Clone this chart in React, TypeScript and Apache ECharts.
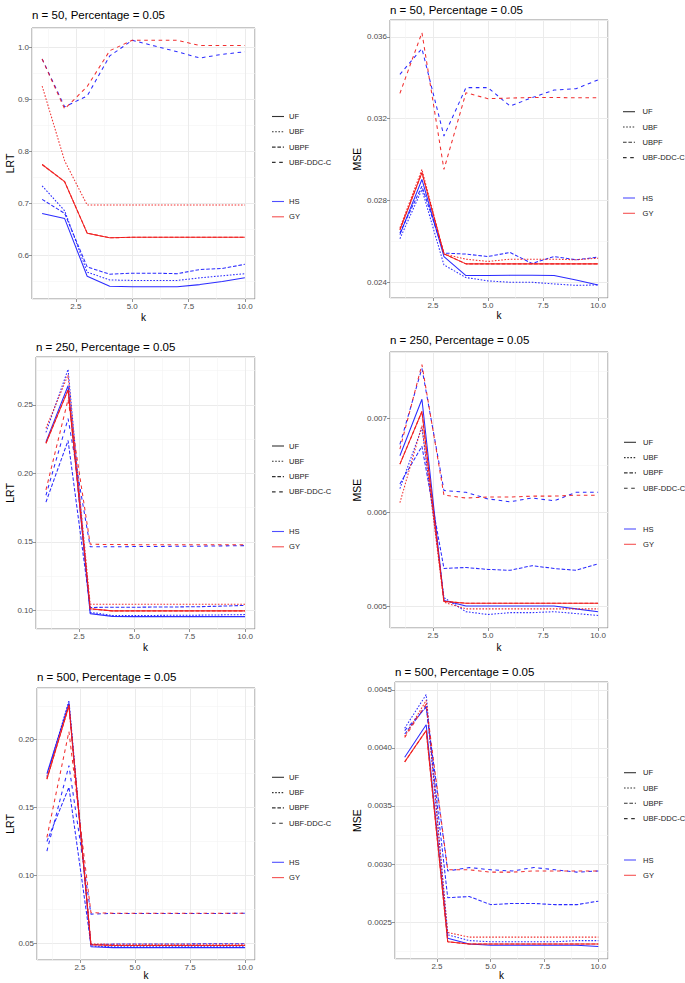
import React, { useEffect, useRef } from "react";
import * as echarts from "echarts";

// ---------- data ----------
const K = [1, 2, 3, 4, 5, 6, 7, 8, 9, 10];
const METHODS = ["UF", "UBF", "UBPF", "UBF-DDC-C"];
const GROUPS = ["HS", "GY"];
const TITLES = [
  "n = 50, Percentage = 0.05",
  "n = 50, Percentage = 0.05",
  "n = 250, Percentage = 0.05",
  "n = 250, Percentage = 0.05",
  "n = 500, Percentage = 0.05",
  "n = 500, Percentage = 0.05",
];
const Y_NAMES = ["LRT", "MSE", "LRT", "MSE", "LRT", "MSE"];
const Y_STEPS = [0.1, 0.004, 0.05, 0.001, 0.05, 0.0005];
const Y_DECIMALS = [1, 3, 2, 3, 2, 4];
const X_STEP = 2.5;

// n = 50, LRT
const LRT50_HS_UF = [0.681, 0.671, 0.56, 0.541, 0.54, 0.54, 0.54, 0.544, 0.55, 0.557];
const LRT50_HS_UBF = [0.734, 0.686, 0.568, 0.553, 0.552, 0.552, 0.552, 0.557, 0.561, 0.565];
const LRT50_HS_UBPF = [0.708, 0.681, 0.578, 0.564, 0.566, 0.566, 0.565, 0.573, 0.575, 0.583];
const LRT50_HS_DDC = [0.978, 0.886, 0.907, 0.984, 1.014, 1.003, 0.992, 0.98, 0.987, 0.992];
const LRT50_GY_UF = [0.775, 0.742, 0.643, 0.634, 0.635, 0.635, 0.635, 0.635, 0.635, 0.635];
const LRT50_GY_UBF = [0.926, 0.782, 0.697, 0.697, 0.697, 0.697, 0.697, 0.697, 0.697, 0.697];
const LRT50_GY_UBPF = [0.775, 0.742, 0.643, 0.634, 0.635, 0.635, 0.635, 0.635, 0.635, 0.635];
const LRT50_GY_DDC = [0.978, 0.882, 0.925, 0.994, 1.014, 1.014, 1.014, 1.004, 1.004, 1.004];

// n = 50, MSE
const MSE50_HS_UF = [0.02633, 0.02903, 0.02526, 0.02433, 0.02433, 0.02434, 0.02434, 0.02433, 0.02411, 0.02387];
const MSE50_HS_UBF = [0.02613, 0.02854, 0.02485, 0.02423, 0.02407, 0.024, 0.024, 0.02392, 0.02385, 0.02387];
const MSE50_HS_UBPF = [0.02641, 0.0287, 0.02543, 0.02538, 0.02526, 0.02546, 0.02492, 0.02526, 0.0251, 0.02523];
const MSE50_HS_DDC = [0.03417, 0.03543, 0.03115, 0.03352, 0.03352, 0.03262, 0.03303, 0.0334, 0.03347, 0.0339];
const MSE50_GY_UF = [0.02657, 0.02936, 0.02539, 0.0249, 0.0249, 0.0249, 0.0249, 0.0249, 0.0249, 0.0249];
const MSE50_GY_UBF = [0.02666, 0.02952, 0.02538, 0.02513, 0.02502, 0.02513, 0.02513, 0.02513, 0.0251, 0.02518];
const MSE50_GY_UBPF = [0.02657, 0.02936, 0.02539, 0.0249, 0.0249, 0.0249, 0.0249, 0.0249, 0.0249, 0.0249];
const MSE50_GY_DDC = [0.03324, 0.03621, 0.02952, 0.03327, 0.03298, 0.03301, 0.03304, 0.03304, 0.03302, 0.03303];

// n = 250, LRT
const LRT250_HS_UF = [0.223, 0.264, 0.0975, 0.0955, 0.0953, 0.0953, 0.0953, 0.0953, 0.0953, 0.0953];
const LRT250_HS_UBF = [0.23, 0.276, 0.0985, 0.0962, 0.0962, 0.0962, 0.0963, 0.0964, 0.0966, 0.0968];
const LRT250_HS_UBPF = [0.179, 0.224, 0.102, 0.1022, 0.1022, 0.1023, 0.1024, 0.1026, 0.103, 0.1035];
const LRT250_HS_DDC = [0.184, 0.24, 0.1463, 0.1463, 0.1465, 0.1466, 0.1467, 0.1468, 0.147, 0.1472];
const LRT250_GY_UF = [0.222, 0.261, 0.101, 0.0995, 0.0995, 0.0995, 0.0995, 0.0995, 0.0995, 0.0995];
const LRT250_GY_UBF = [0.233, 0.272, 0.1043, 0.1043, 0.1043, 0.1043, 0.1043, 0.1043, 0.1043, 0.1043];
const LRT250_GY_UBPF = [0.222, 0.261, 0.101, 0.0995, 0.0995, 0.0995, 0.0995, 0.0995, 0.0995, 0.0995];
const LRT250_GY_DDC = [0.188, 0.254, 0.1482, 0.148, 0.1479, 0.1479, 0.1478, 0.1478, 0.1478, 0.1478];

// n = 250, MSE
const MSE250_HS_UF = [0.0066, 0.0072, 0.00506, 0.005, 0.005, 0.005, 0.005, 0.005, 0.00497, 0.00494];
const MSE250_HS_UBF = [0.00625, 0.0069, 0.00509, 0.00494, 0.00491, 0.00493, 0.00493, 0.00494, 0.00492, 0.0049];
const MSE250_HS_UBPF = [0.0063, 0.0067, 0.0054, 0.00541, 0.00539, 0.00538, 0.00543, 0.0054, 0.00538, 0.00545];
const MSE250_HS_DDC = [0.00672, 0.00753, 0.00623, 0.00621, 0.00614, 0.00611, 0.00615, 0.00612, 0.00621, 0.00621];
const MSE250_GY_UF = [0.00651, 0.00707, 0.00505, 0.00503, 0.00503, 0.00503, 0.00503, 0.00503, 0.00503, 0.00503];
const MSE250_GY_UBF = [0.0061, 0.00692, 0.00504, 0.00497, 0.00497, 0.00497, 0.00497, 0.00497, 0.00497, 0.00497];
const MSE250_GY_UBPF = [0.00651, 0.00707, 0.00505, 0.00503, 0.00503, 0.00503, 0.00503, 0.00503, 0.00503, 0.00503];
const MSE250_GY_DDC = [0.00667, 0.00757, 0.00618, 0.00615, 0.00616, 0.00616, 0.00617, 0.00617, 0.00618, 0.00618];

// n = 500, LRT
const LRT500_HS_UF = [0.175, 0.227, 0.0475, 0.0468, 0.0468, 0.0468, 0.0468, 0.0468, 0.0468, 0.0468];
const LRT500_HS_UBF = [0.173, 0.229, 0.048, 0.0474, 0.0474, 0.0474, 0.0474, 0.0474, 0.0474, 0.0475];
const LRT500_HS_UBPF = [0.125, 0.165, 0.049, 0.0494, 0.0495, 0.0495, 0.0495, 0.0496, 0.0496, 0.0497];
const LRT500_HS_DDC = [0.118, 0.181, 0.0715, 0.072, 0.072, 0.072, 0.072, 0.072, 0.072, 0.0721];
const LRT500_GY_UF = [0.171, 0.225, 0.049, 0.0484, 0.0484, 0.0484, 0.0484, 0.0484, 0.0484, 0.0484];
const LRT500_GY_UBF = [0.172, 0.226, 0.0495, 0.0493, 0.0493, 0.0493, 0.0493, 0.0493, 0.0493, 0.0493];
const LRT500_GY_UBPF = [0.171, 0.225, 0.049, 0.0484, 0.0484, 0.0484, 0.0484, 0.0484, 0.0484, 0.0484];
const LRT500_GY_DDC = [0.128, 0.206, 0.0725, 0.0722, 0.0722, 0.0722, 0.0722, 0.0722, 0.0722, 0.0722];

// n = 500, MSE
const MSE500_HS_UF = [0.00392, 0.0042, 0.00236, 0.00231, 0.0023, 0.0023, 0.0023, 0.0023, 0.0023, 0.00229];
const MSE500_HS_UBF = [0.00417, 0.00446, 0.00239, 0.00234, 0.00233, 0.00233, 0.00233, 0.00233, 0.00234, 0.00234];
const MSE500_HS_UBPF = [0.00412, 0.00436, 0.00271, 0.00272, 0.00265, 0.00266, 0.00266, 0.00265, 0.00265, 0.00268];
const MSE500_HS_DDC = [0.00415, 0.00435, 0.00294, 0.00297, 0.00295, 0.00294, 0.00297, 0.00295, 0.00293, 0.00294];
const MSE500_GY_UF = [0.00388, 0.00415, 0.00233, 0.00231, 0.00231, 0.00231, 0.00231, 0.00231, 0.00231, 0.00231];
const MSE500_GY_UBF = [0.0041, 0.00441, 0.00241, 0.00237, 0.00237, 0.00237, 0.00237, 0.00237, 0.00237, 0.00237];
const MSE500_GY_UBPF = [0.00388, 0.00415, 0.00233, 0.00231, 0.00231, 0.00231, 0.00231, 0.00231, 0.00231, 0.00231];
const MSE500_GY_DDC = [0.00409, 0.00438, 0.00295, 0.00295, 0.00293, 0.00293, 0.00294, 0.00294, 0.00294, 0.00294];

const PANEL_DATA = [
  { HS: [LRT50_HS_UF, LRT50_HS_UBF, LRT50_HS_UBPF, LRT50_HS_DDC], GY: [LRT50_GY_UF, LRT50_GY_UBF, LRT50_GY_UBPF, LRT50_GY_DDC] },
  { HS: [MSE50_HS_UF, MSE50_HS_UBF, MSE50_HS_UBPF, MSE50_HS_DDC], GY: [MSE50_GY_UF, MSE50_GY_UBF, MSE50_GY_UBPF, MSE50_GY_DDC] },
  { HS: [LRT250_HS_UF, LRT250_HS_UBF, LRT250_HS_UBPF, LRT250_HS_DDC], GY: [LRT250_GY_UF, LRT250_GY_UBF, LRT250_GY_UBPF, LRT250_GY_DDC] },
  { HS: [MSE250_HS_UF, MSE250_HS_UBF, MSE250_HS_UBPF, MSE250_HS_DDC], GY: [MSE250_GY_UF, MSE250_GY_UBF, MSE250_GY_UBPF, MSE250_GY_DDC] },
  { HS: [LRT500_HS_UF, LRT500_HS_UBF, LRT500_HS_UBPF, LRT500_HS_DDC], GY: [LRT500_GY_UF, LRT500_GY_UBF, LRT500_GY_UBPF, LRT500_GY_DDC] },
  { HS: [MSE500_HS_UF, MSE500_HS_UBF, MSE500_HS_UBPF, MSE500_HS_DDC], GY: [MSE500_GY_UF, MSE500_GY_UBF, MSE500_GY_UBPF, MSE500_GY_DDC] },
];

// ---------- layout & style ----------
const FONT = '"Liberation Sans", Arial, Helvetica, sans-serif';
const COLORS: Record<string, string> = { HS: "#1414ff", GY: "#f01a1a" };
const DASHES: any[] = ["solid", [1.6, 1.6], [3.6, 1.8], [3.6, 3.6]];

const LAYOUT = [
  { grid: { left: 32, top: 28, width: 223, height: 271 }, titleX: 32, titleY: 15, yNameX: 10, kY: 317, keyX: 272, textX: 289, ltY: 116.5, colY: 201.5, keyLen: 12 },
  { grid: { left: 390, top: 20, width: 218, height: 278 }, titleX: 390, titleY: 9.5, yNameX: 357, kY: 315, keyX: 623, textX: 642.5, ltY: 111.7, colY: 198, keyLen: 12 },
  { grid: { left: 36, top: 357, width: 219, height: 272 }, titleX: 36, titleY: 347, yNameX: 10, kY: 647, keyX: 272, textX: 289, ltY: 446, colY: 531.5, keyLen: 12 },
  { grid: { left: 390, top: 352, width: 218, height: 276 }, titleX: 390, titleY: 340, yNameX: 357, kY: 647, keyX: 624, textX: 643, ltY: 442.3, colY: 529, keyLen: 12 },
  { grid: { left: 37, top: 688, width: 218, height: 272 }, titleX: 37, titleY: 677, yNameX: 10, kY: 975, keyX: 272, textX: 289, ltY: 777.3, colY: 862.3, keyLen: 12 },
  { grid: { left: 395, top: 682, width: 213, height: 277 }, titleX: 395, titleY: 672, yNameX: 357, kY: 975, keyX: 624, textX: 643, ltY: 772.7, colY: 860, keyLen: 12 },
];
const LEGEND_STEP = 15.3;

function textEl(text: string, x: number, y: number, size: number, fill: string, align = "left", rotation = 0) {
  return {
    type: "text",
    x,
    y,
    rotation,
    silent: true,
    style: {
      text,
      fill,
      font: `${size}px ${FONT}`,
      textAlign: align,
      align,
      textVerticalAlign: "middle",
      verticalAlign: "middle",
    },
  };
}

function buildOption() {
  const grids: any[] = [];
  const xAxes: any[] = [];
  const yAxes: any[] = [];
  const series: any[] = [];
  const graphics: any[] = [];

  PANEL_DATA.forEach((pd, i) => {
    const L = LAYOUT[i];
    grids.push({ ...L.grid, show: true, borderColor: "#8c8c8c", borderWidth: 1, backgroundColor: "#ffffff", containLabel: false });

    const xr = K[K.length - 1] - K[0];
    const xmin = K[0] - 0.05 * xr;
    const xmax = K[K.length - 1] + 0.05 * xr;
    const all = [...pd.HS, ...pd.GY].flat();
    const dmin = Math.min(...all);
    const dmax = Math.max(...all);
    const yr = dmax - dmin;
    const ymin = dmin - 0.05 * yr;
    const ymax = dmax + 0.05 * yr;

    const common = {
      gridIndex: i,
      type: "value",
      axisLine: { show: false },
      axisTick: { show: true, length: 3, lineStyle: { color: "#7a7a7a", width: 0.8 } },
      splitLine: { show: true, lineStyle: { color: "#ebebeb", width: 1 } },
      minorTick: { show: false, splitNumber: 2 },
      minorSplitLine: { show: true, lineStyle: { color: "#f3f3f3", width: 0.6 } },
    };
    xAxes.push({
      ...common,
      min: xmin,
      max: xmax,
      minInterval: X_STEP,
      maxInterval: X_STEP,
      axisLabel: {
        color: "#4d4d4d",
        fontSize: 8,
        fontFamily: FONT,
        margin: 3,
        showMinLabel: false,
        showMaxLabel: false,
        formatter: (v: number) => v.toFixed(1),
      },
    });
    const dec = Y_DECIMALS[i];
    yAxes.push({
      ...common,
      min: ymin,
      max: ymax,
      minInterval: Y_STEPS[i],
      maxInterval: Y_STEPS[i],
      axisLabel: {
        color: "#4d4d4d",
        fontSize: 8,
        fontFamily: FONT,
        margin: 3,
        showMinLabel: false,
        showMaxLabel: false,
        formatter: (v: number) => v.toFixed(dec),
      },
    });

    GROUPS.forEach((g) => {
      const arrs = (pd as any)[g] as number[][];
      const order = g === "GY" ? [2, 0, 1, 3] : [0, 1, 2, 3];
      order.forEach((m) => {
        series.push({
          type: "line",
          name: `${g} ${METHODS[m]}`,
          xAxisIndex: i,
          yAxisIndex: i,
          data: K.map((k, j) => [k, arrs[m][j]]),
          symbol: "none",
          silent: true,
          emphasis: { disabled: true },
          lineStyle: { color: COLORS[g], width: 1.05, type: DASHES[m], opacity: 0.9 },
          z: 3,
        });
      });
    });

    // texts
    graphics.push(textEl(TITLES[i], L.titleX, L.titleY, 11.5, "#000000"));
    graphics.push(textEl("k", L.grid.left + L.grid.width / 2, L.kY, 10, "#000000", "center"));
    graphics.push(textEl(Y_NAMES[i], L.yNameX, L.grid.top + L.grid.height / 2, 10.5, "#000000", "center", Math.PI / 2));

    // legend: linetype
    METHODS.forEach((m, mi) => {
      const y = L.ltY + mi * LEGEND_STEP;
      graphics.push({
        type: "line",
        silent: true,
        shape: { x1: L.keyX, y1: y, x2: L.keyX + L.keyLen, y2: y },
        style: { stroke: "#333333", lineWidth: 1.1, lineDash: mi === 0 ? null : DASHES[mi] },
      });
      graphics.push(textEl(m, L.textX, y, 7.6, "#1a1a1a"));
    });
    // legend: colour
    GROUPS.forEach((g, gi) => {
      const y = L.colY + gi * LEGEND_STEP;
      graphics.push({
        type: "line",
        silent: true,
        shape: { x1: L.keyX, y1: y, x2: L.keyX + L.keyLen, y2: y },
        style: { stroke: COLORS[g], lineWidth: 1.1, opacity: 0.75 },
      });
      graphics.push(textEl(g, L.textX, y, 7.6, "#1a1a1a"));
    });
  });

  return {
    animation: false,
    backgroundColor: "#ffffff",
    textStyle: { fontFamily: FONT },
    grid: grids,
    xAxis: xAxes,
    yAxis: yAxes,
    series,
    graphic: graphics,
  };
}

export default function App() {
  const ref = useRef<HTMLDivElement>(null);
  useEffect(() => {
    if (!ref.current) return;
    const chart = echarts.init(ref.current, undefined, { renderer: "svg" });
    chart.setOption(buildOption() as any);
    return () => chart.dispose();
  }, []);
  return (
    <div
      ref={ref}
      style={{ position: "absolute", left: 0, top: 0, width: 685, height: 983, background: "#ffffff" }}
    />
  );
}
